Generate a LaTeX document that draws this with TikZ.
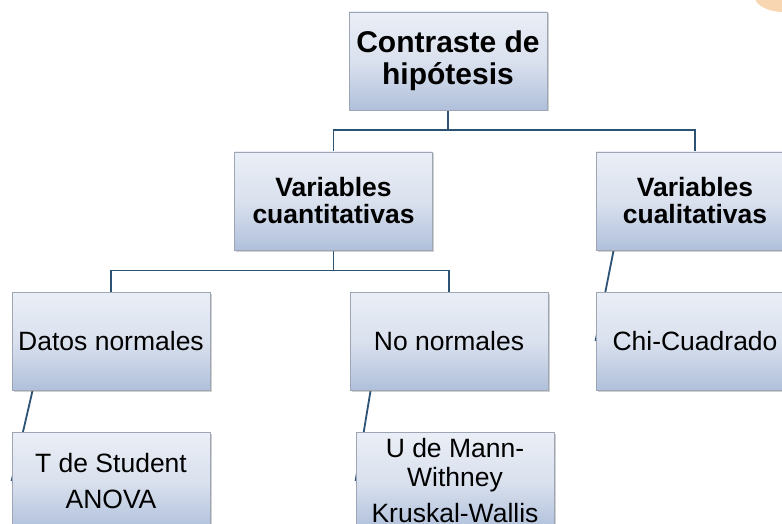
\documentclass[tikz,border=0pt]{standalone}
\usepackage{fontspec}
\setmainfont{Liberation Sans}
\usetikzlibrary{shadows,backgrounds}
\definecolor{boxtop}{RGB}{234,238,246}
\definecolor{boxmid}{RGB}{218,225,238}
\definecolor{boxbot}{RGB}{176,192,219}
\definecolor{boxline}{RGB}{158,166,182}
\definecolor{conn}{RGB}{44,82,116}
\definecolor{blobc}{RGB}{248,214,178}
\tikzset{
  box/.style={rectangle, draw=boxline, line width=0.8pt,
    top color=boxtop, bottom color=boxbot, middle color=boxmid,
    minimum width=198pt, minimum height=98pt, inner sep=2pt,
    align=center, text=black,
    drop shadow={shadow xshift=1.5pt, shadow yshift=-1.5pt, opacity=0.3, fill=black!60}},
  big/.style={font=\fontsize{30}{32}\selectfont\bfseries},
  mid/.style={font=\fontsize{26.5}{27}\selectfont\bfseries},
  reg/.style={font=\fontsize{26.5}{29}\selectfont},
  link/.style={draw=conn, line width=1.8pt},
}
\begin{document}
\begin{tikzpicture}[x=1pt,y=-1pt]
\useasboundingbox (0,0) rectangle (782,524);
\clip (0,0) rectangle (782,524);
\node[box,big] (root) at (448,61) {Contraste de\\hipótesis};
\node[box,mid] (quant) at (333.5,201) {Variables\\cuantitativas};
\node[box,mid] (qual) at (695,201) {Variables\\cualitativas};
\node[box,reg] (norm) at (111,341) {Datos normales};
\node[box,reg] (nonorm) at (449,341) {No normales};
\node[box,reg] (chi) at (695,341) {Chi-Cuadrado};
\node[box,reg] (tst) at (111,481) {T de Student\\[7pt]ANOVA};
\node[box,reg] (umw) at (455,481) {U de Mann-\\Withney\\[7pt]Kruskal-Wallis};
\fill[blobc] (784,-3) ellipse [x radius=29, y radius=15];
\begin{scope}[on background layer]
  \fill[white] (0,0) rectangle (782,524);
  \draw[link] (root.south) -- ++(0,19.5) coordinate (j1);
  \draw[link] (quant.north) |- (j1) -| (qual.north);
  \draw[link] (quant.south) -- ++(0,20) coordinate (j2);
  \draw[link] (norm.north) |- (j2) -| (nonorm.north);
  \draw[link] ([xshift=21pt]norm.south west) -- (tst.west);
  \draw[link] ([xshift=21pt]nonorm.south west) -- (umw.west);
  \draw[link] ([xshift=18pt]qual.south west) -- (chi.west);
\end{scope}
\end{tikzpicture}
\end{document}
